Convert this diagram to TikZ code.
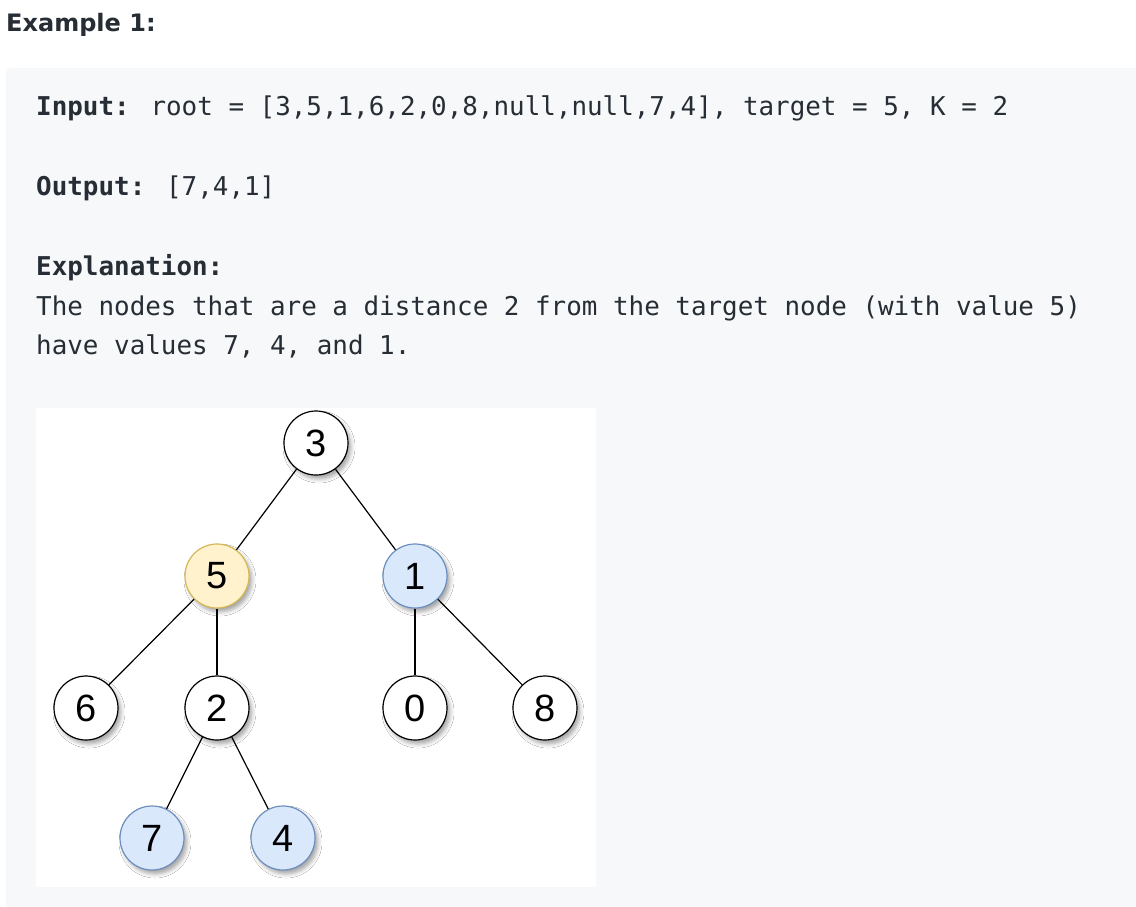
\documentclass[tikz,border=0pt]{standalone}
\usepackage{fontspec}
\usetikzlibrary{shadows.blur}
\setmainfont{Liberation Sans}
\newfontfamily\headfont{DejaVu Sans}
\newfontfamily\monofont{DejaVu Sans Mono}
\definecolor{txt}{HTML}{262D34}
\definecolor{panel}{HTML}{F7F8FA}
\definecolor{yfill}{HTML}{FFF2CC}
\definecolor{yline}{HTML}{D6B656}
\definecolor{bfill}{HTML}{DAE8FC}
\definecolor{bline}{HTML}{6C8EBF}
\tikzset{
  tnode/.style={circle, draw=black, line width=1.2pt, fill=white, minimum size=64pt, inner sep=0pt,
    font=\fontsize{38}{38}\selectfont,
    blur shadow={shadow xshift=3pt, shadow yshift=-4pt, shadow opacity=35, shadow blur radius=4pt}},
  target/.style={tnode, fill=yfill, draw=yline},
  found/.style={tnode, fill=bfill, draw=bline},
  edge/.style={line width=1.2pt, black},
  mtext/.style={anchor=base west, inner sep=0pt, text=txt, font=\monofont\fontsize{25.9}{26}\selectfont}
}
\begin{document}
\begin{tikzpicture}[x=1pt, y=-1pt]
\useasboundingbox (0,0) rectangle (1136,906);
\fill[white] (0,0) rectangle (1136,906);
\fill[panel, rounded corners=4pt] (6,68) rectangle (1146,916);
\fill[white] (36,408) rectangle (596,887);

\node[anchor=base west, inner sep=0pt, text=txt, font=\headfont\bfseries\fontsize{24}{24}\selectfont] (title) at (6,31) {Example 1:};

\node[mtext] (inp) at (36,115) {\textbf{Input:} root = [3,5,1,6,2,0,8,null,null,7,4], target = 5, K = 2};
\node[mtext] (outp) at (36,195) {\textbf{Output:} [7,4,1]};
\node[mtext] (expl) at (36,275) {\textbf{Explanation:}};
\node[mtext] (l1) at (36,315) {The nodes that are a distance 2 from the target node (with value 5)};
\node[mtext] (l2) at (36,354) {have values 7, 4, and 1.};

\node[tnode]  (n3) at (316,443) {3};
\node[target] (n5) at (217,576) {5};
\node[found]  (n1) at (415,576) {1};
\node[tnode]  (n6) at (86,708) {6};
\node[tnode]  (n2) at (217,708) {2};
\node[tnode]  (n0) at (415,708) {0};
\node[tnode]  (n8) at (545,708) {8};
\node[found]  (n7) at (152,838) {7};
\node[found]  (n4) at (283,838) {4};

\draw[edge] (n3) -- (n5);
\draw[edge] (n3) -- (n1);
\draw[edge] (n5) -- (n6);
\draw[edge] (n5) -- (n2);
\draw[edge] (n1) -- (n0);
\draw[edge] (n1) -- (n8);
\draw[edge] (n2) -- (n7);
\draw[edge] (n2) -- (n4);
\end{tikzpicture}
\end{document}
